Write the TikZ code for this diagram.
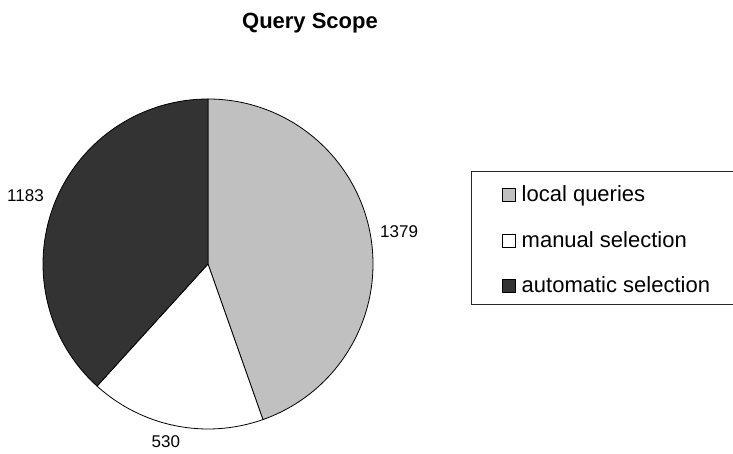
\documentclass[tikz,border=0pt]{standalone}
\usepackage{fontspec}
\setmainfont{Liberation Sans}
\definecolor{sliceLocal}{HTML}{C0C0C0}
\definecolor{sliceManual}{HTML}{FFFFFF}
\definecolor{sliceAuto}{HTML}{333333}
\tikzset{
  slice/.style={draw=black, line width=0.8pt, line join=round},
  vallabel/.style={inner sep=0pt, anchor=base west, font=\fontsize{17}{20}\selectfont},
  legendtext/.style={inner sep=0pt, anchor=base west, font=\fontsize{22}{26}\selectfont},
  legendkey/.style={draw=black, line width=0.6pt, minimum size=13pt, inner sep=0pt, anchor=south west},
  charttitle/.style={inner sep=0pt, anchor=base, font=\fontsize{22}{26}\selectfont\bfseries}
}
\begin{document}
\begin{tikzpicture}[x=1pt, y=1pt]
  \clip (0,0) rectangle (733,454);
  \fill[white] (0,0) rectangle (733,454);

  % title
  \node[charttitle] (title) at (310,425.7) {Query Scope};

  % pie: 1379 + 530 + 1183 = 3092, starting at the top, clockwise
  \coordinate (c) at (208,190);
  \def\r{165}
  \filldraw[slice, fill=sliceLocal] (c) -- ++(90:\r) arc[start angle=90, end angle=-70.556, radius=\r] -- cycle;
  \filldraw[slice, fill=sliceManual] (c) -- ++(-70.556:\r) arc[start angle=-70.556, end angle=-132.264, radius=\r] -- cycle;
  \filldraw[slice, fill=sliceAuto] (c) -- ++(-132.264:\r) arc[start angle=-132.264, end angle=-270, radius=\r] -- cycle;

  % value labels
  \node[vallabel] (vLocal) at (380,216) {1379};
  \node[vallabel] (vManual) at (151.5,6) {530};
  \node[vallabel] (vAuto) at (7,252) {1183};

  % legend
  \draw[line width=0.9pt, draw=black!85] (471,149.7) rectangle (740,283);
  \node[legendkey, fill=sliceLocal] (kLocal) at (502,252.3) {};
  \node[legendtext] (tLocal) at (521.5,252.3) {local queries};
  \node[legendkey, fill=sliceManual] (kManual) at (502,206.3) {};
  \node[legendtext] (tManual) at (521.5,206.3) {manual selection};
  \node[legendkey, fill=sliceAuto] (kAuto) at (502,161.3) {};
  \node[legendtext] (tAuto) at (521.5,161.3) {automatic selection};
\end{tikzpicture}
\end{document}
